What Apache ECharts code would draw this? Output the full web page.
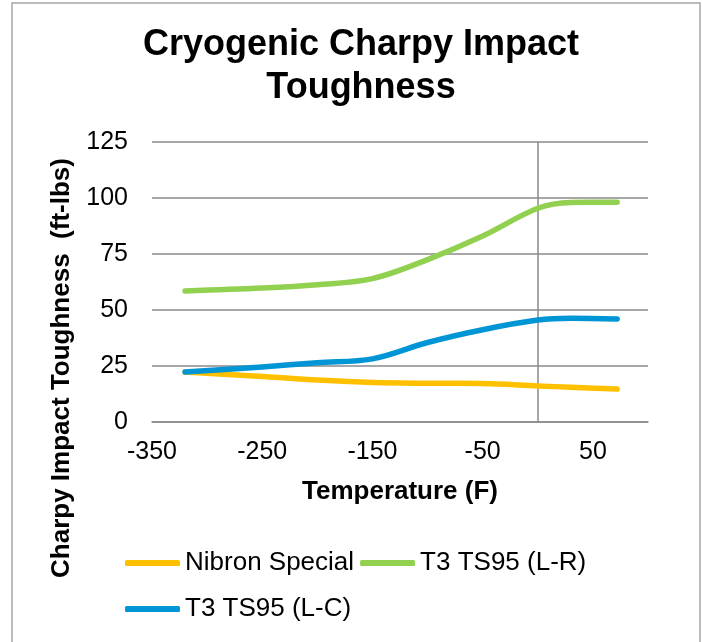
<!DOCTYPE html>
<html>
<head>
<meta charset="utf-8">
<script src="https://cdn.jsdelivr.net/npm/echarts@6/dist/echarts.min.js"></script>
<style>
html,body{margin:0;padding:0;background:#fff;}
#chart{width:702px;height:642px;}
</style>
</head>
<body>
<div id="chart"></div>
<script>
var temperatures = [-320, -250, -200, -150, -100, -50, 0, 30, 72];
var nibronSpecial = [22.3, 20.3, 18.7, 17.6, 17.3, 17.2, 16.1, 15.5, 14.7];
var t3LR = [58.5, 59.8, 61.3, 64.0, 72.5, 83.0, 95.4, 98.0, 98.1];
var t3LC = [22.3, 24.6, 26.5, 28.2, 35.5, 41.2, 45.5, 46.3, 46.0];
var seriesNames = ['Nibron Special', 'T3 TS95 (L-R)', 'T3 TS95 (L-C)'];
var seriesColors = ['#FFC000', '#92D050', '#0095D5'];
var xTickLabels = [-350, -250, -150, -50, 50];
var yTicks = [0, 25, 50, 75, 100, 125];

function pairs(xs, ys) {
  return xs.map(function (x, i) { return [x, ys[i]]; });
}
var FONT = '"Liberation Sans", Arial, sans-serif';
var chart = echarts.init(document.getElementById('chart'));
var values = [nibronSpecial, t3LR, t3LC];
var series = values.map(function (v, i) {
  var s = {
    name: seriesNames[i],
    type: 'line',
    smooth: 0.35,
    symbol: 'none',
    data: pairs(temperatures, v),
    lineStyle: { color: seriesColors[i], width: 5.5, cap: 'round', join: 'round' },
    itemStyle: { color: seriesColors[i] },
    z: 3
  };
  if (i === 0) {
    s.markLine = {
      silent: true,
      symbol: 'none',
      label: { show: false },
      lineStyle: { color: '#8a8a8a', width: 1.5, type: 'solid' },
      data: [{ xAxis: 0 }],
      z: 1
    };
  }
  return s;
});

chart.setOption({
  animation: false,
  backgroundColor: '#fff',
  title: {
    text: 'Cryogenic Charpy Impact\nToughness',
    left: 361,
    textAlign: 'center',
    top: 24,
    padding: 0,
    textStyle: { fontFamily: FONT, fontSize: 36, fontWeight: 'bold', color: '#000', lineHeight: 43 }
  },
  legend: {
    left: 125,
    top: 543,
    width: 480,
    itemWidth: 55,
    itemHeight: 6,
    itemGap: 6,
    icon: 'roundRect',
    padding: 0,
    textStyle: { fontFamily: FONT, fontSize: 26, color: '#000', lineHeight: 40 },
    data: seriesNames
  },
  grid: { left: 152, right: 54, top: 142, bottom: 220, containLabel: false },
  xAxis: {
    type: 'value',
    min: -350,
    max: 100,
    interval: 50,
    name: 'Temperature (F)',
    nameLocation: 'middle',
    nameGap: 57,
    nameTextStyle: { fontFamily: FONT, fontSize: 26, fontWeight: 'bold', color: '#000' },
    axisLine: { show: true, onZero: false, lineStyle: { color: '#8a8a8a', width: 1.5 } },
    axisTick: { show: false },
    splitLine: { show: false },
    axisLabel: {
      fontFamily: FONT, fontSize: 25, color: '#000', margin: 18,
      showMinLabel: true, showMaxLabel: true,
      formatter: function (v) { return xTickLabels.indexOf(v) >= 0 ? String(v) : ''; }
    }
  },
  yAxis: {
    type: 'value',
    min: yTicks[0],
    max: yTicks[yTicks.length - 1],
    interval: 25,
    name: 'Charpy Impact Toughness  (ft-lbs)',
    nameLocation: 'middle',
    nameRotate: 90,
    nameGap: 77,
    nameTextStyle: { fontFamily: FONT, fontSize: 26, fontWeight: 'bold', color: '#000', padding: [0, 172, 0, 0] },
    axisLine: { show: false, onZero: false },
    axisTick: { show: false },
    splitLine: { show: true, lineStyle: { color: '#8a8a8a', width: 1.5 } },
    axisLabel: { fontFamily: FONT, fontSize: 25, color: '#000', margin: 24 }
  },
  graphic: [{
    type: 'rect',
    silent: true,
    shape: { x: 12, y: 3, width: 688, height: 660 },
    style: { fill: null, stroke: '#a6a6a6', lineWidth: 1.5 },
    z: -1
  }],
  series: series
});
</script>
</body>
</html>
